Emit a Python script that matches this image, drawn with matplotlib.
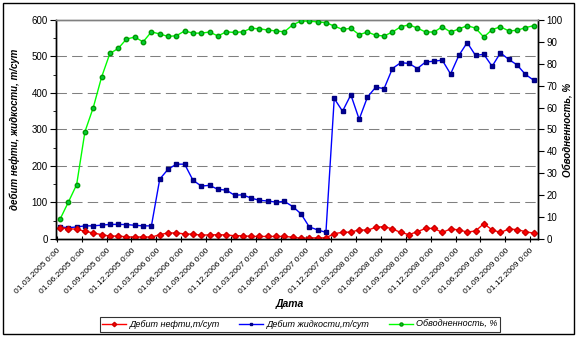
import numpy as np
import matplotlib
matplotlib.use("Agg")
import matplotlib.pyplot as plt
from matplotlib.patches import Rectangle

plt.rcParams['font.family'] = ['Liberation Sans', 'DejaVu Sans']

# помесячные данные 03.2005 - 12.2009
oil = [31, 28, 27, 21, 16.5, 12, 8, 8, 6, 5, 6, 5, 12, 16.5, 16.5, 14, 13, 11, 11, 12,
       11, 9, 9, 7, 7, 7, 7, 7, 5, 2, 3, 3, 3, 15, 18, 19, 25, 24, 32, 34,
       27.5, 18, 12, 20, 29, 29, 18, 27.5, 25, 19, 22, 42, 25, 18, 27, 26, 20, 16]
liquid = [33, 31, 33, 36, 36, 38, 40, 40, 39.5, 37.6, 36, 36, 164, 191, 205, 205, 161, 145, 147, 136,
          134, 120, 121, 112, 106, 104, 101, 103, 89, 69, 33, 25, 18, 385, 350, 395, 328, 389, 416, 412,
          467, 483, 481, 467, 485, 487, 490, 452, 503, 538, 503, 506, 473, 510, 492, 477, 451, 435]
watercut = [9.0, 16.8, 24.8, 49, 60, 73.9, 84.7, 87, 91.3, 92.2, 90, 94.6, 93.6, 92.5, 92.8, 95, 94, 94, 94.5, 92.7,
            94.6, 94.3, 94.6, 96.2, 96, 95.4, 95, 94.6, 97.8, 99.5, 99.5, 99.1, 98.8, 97.2, 95.7, 96.2, 93.3, 94.5, 93, 92.7,
            94.5, 96.9, 97.8, 96.3, 94.5, 94.5, 96.9, 94.5, 95.9, 97.4, 96.3, 92.2, 95.6, 96.9, 95, 95.3, 96.5, 97.4]

tick_labels = ["01.03.2005 0:00", "01.06.2005 0:00", "01.09.2005 0:00", "01.12.2005 0:00",
               "01.03.2006 0:00", "01.06.2006 0:00", "01.09.2006 0:00", "01.12.2006 0:00",
               "01.03.2007 0:00", "01.06.2007 0:00", "01.09.2007 0:00", "01.12.2007 0:00",
               "01.03.2008 0:00", "01.06.2008 0:00", "01.09.2008 0:00", "01.12.2008 0:00",
               "01.03.2009 0:00", "01.06.2009 0:00", "01.09.2009 0:00", "01.12.2009 0:00"]

x = np.arange(len(oil))

fig = plt.figure(figsize=(5.77, 3.37), dpi=100)
ax = fig.add_axes([0.0971, 0.2908, 0.8353, 0.6499])
ax2 = ax.twinx()

fs = 7
grid_kw = dict(color='#808080', lw=0.75, dashes=(10, 5))
for v in range(100, 600, 100):
    ax.axhline(v, zorder=0, **grid_kw)

l1, = ax.plot(x, oil, color='#FF0000', lw=1, marker='D', ms=3.2, mfc='#FF0000', mec='#CC0000', zorder=4)
l2, = ax.plot(x, liquid, color='#0000FF', lw=1, marker='s', ms=2.8, mfc='#000099', mec='#000080', zorder=3)
l3, = ax2.plot(x, watercut, color='#00FF00', lw=1, marker='o', ms=3.2, mfc='#00CC33', mec='#009900', zorder=3)

ax.set_xlim(-0.48, 57.52)
ax.set_ylim(0, 600)
ax2.set_ylim(0, 100)
ax.set_yticks(range(0, 700, 100))
ax.set_yticks(range(50, 600, 100), minor=True)
ax2.set_yticks(range(0, 110, 10))
ax.set_xticks(np.arange(0, len(oil), 3) - 0.4)
ax.set_xticklabels(tick_labels, rotation=45, ha='right', rotation_mode='anchor', fontsize=6)
ax.tick_params(axis='x', direction='inout', length=5, pad=3)
ax.tick_params(axis='y', which='major', direction='out', length=4, labelsize=fs, pad=2)
ax.tick_params(axis='y', which='minor', direction='out', length=2)
ax2.tick_params(axis='y', direction='out', length=4, labelsize=fs, pad=2)

for a in (ax, ax2):
    a.spines['top'].set_color('#808080')
    a.spines['top'].set_linewidth(1)
    for s in ('left', 'right', 'bottom'):
        a.spines[s].set_linewidth(1)

ax.set_ylabel("дебит нефти, жидкости, т/сут", fontsize=fs, style='italic', weight='bold', labelpad=8)
ax2.set_ylabel("Обводненность, %", fontsize=fs, style='italic', weight='bold', labelpad=1)
fig.text(0.503, 0.098, "Дата", fontsize=fs + 0.5, style='italic', weight='bold', ha='center', va='center')

leg = fig.legend([l1, l2, l3], ["Дебит нефти,т/сут", "Дебит жидкости,т/сут", "Обводненность, %"],
                 loc='center', bbox_to_anchor=(0.52, 0.037), ncol=3,
                 prop=dict(style='italic', size=6.5), frameon=True, fancybox=False,
                 edgecolor='black', handlelength=2.6, handletextpad=0.4, columnspacing=2.2,
                 borderpad=0.3, markerscale=0.7)
leg.get_frame().set_linewidth(0.8)

fig.patches.append(Rectangle((0.005, 0.008), 0.99, 0.984, transform=fig.transFigure,
                             fill=False, edgecolor='black', lw=1))

fig.savefig("out.png", dpi=100)
